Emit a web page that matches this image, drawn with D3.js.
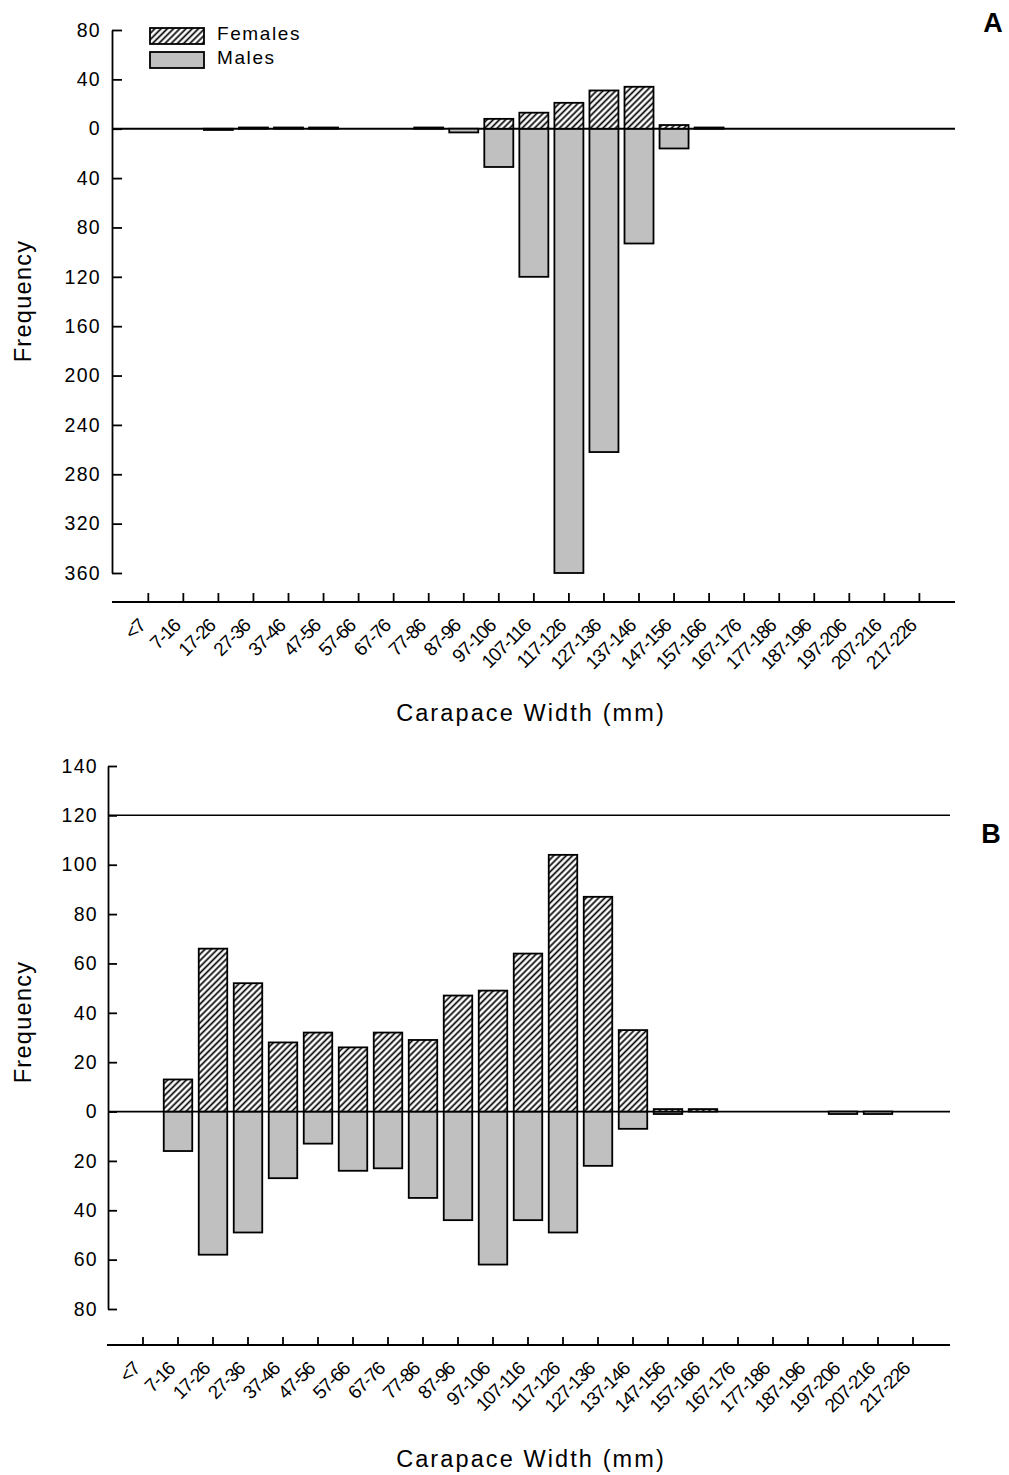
<!DOCTYPE html>
<html>
<head>
<meta charset="utf-8">
<script src="https://cdn.jsdelivr.net/npm/d3@7/dist/d3.min.js"></script>
<style>
  html, body { margin: 0; padding: 0; background: #fff; }
  svg { display: block; }
  text { font-family: "Liberation Sans", Arial, Helvetica, sans-serif; fill: #000; }
</style>
</head>
<body>
<svg id="chart" width="1009" height="1475"></svg>
<script>
// Carapace width classes (mm)
const categories = ["<7","7-16","17-26","27-36","37-46","47-56","57-66","67-76","77-86","87-96","97-106",
  "107-116","117-126","127-136","137-146","147-156","157-166","167-176","177-186","187-196","197-206",
  "207-216","217-226"];

// Panel A frequencies
const femalesA = [0,0,0,1,1,1,0,0,1,0,8,13,21,31,34,3,1,0,0,0,0,0,0];
const malesA   = [0,0,1,0,0,0,0,0,0,3,31,120,360,262,93,16,0,0,0,0,0,0,0];

// Panel B frequencies
const femalesB = [0,13,66,52,28,32,26,32,29,47,49,64,104,87,33,1,1,0,0,0,0,0,0];
const malesB   = [0,16,58,49,27,13,24,23,35,44,62,44,49,22,7,1,0,0,0,0,1,1,0];

// Y tick values (males plotted below zero, labelled as positive counts)
const ticksA = [80,40,0,-40,-80,-120,-160,-200,-240,-280,-320,-360];
const ticksB = [140,120,100,80,60,40,20,0,-20,-40,-60,-80];

const legendItems = ["Females", "Males"];
const xTitle = "Carapace Width (mm)";
const yTitle = "Frequency";

const svg = d3.select("#chart");
const FONT = '"Liberation Sans", Arial, Helvetica, sans-serif';

// diagonal hatch used for females
const HW = 4.4;
const defs = svg.append("defs");
const pat = defs.append("pattern")
  .attr("id", "hatch")
  .attr("patternUnits", "userSpaceOnUse")
  .attr("width", HW).attr("height", HW)
  .attr("patternTransform", "rotate(45)");
pat.append("rect").attr("width", HW).attr("height", HW).attr("fill", "#fff");
pat.append("line").attr("x1", HW / 2).attr("y1", -1).attr("x2", HW / 2).attr("y2", HW + 1)
  .attr("stroke", "#000").attr("stroke-width", 1.7);

const GRAY = "#c0c0c0";
const SW = 1.8;

function panel(cfg) {
  const g = svg.append("g");
  const n = categories.length;

  const pi = 1 - cfg.barW / cfg.step;
  const x = d3.scaleBand()
    .domain(categories)
    .range([cfg.c0 - cfg.step / 2, cfg.c0 + (n - 0.5) * cfg.step])
    .paddingInner(pi)
    .paddingOuter(pi / 2);

  const y = d3.scaleLinear()
    .domain([cfg.yMax, cfg.yMin])
    .range([cfg.yTop, cfg.yBot]);

  // reference lines
  g.append("line")
    .attr("x1", cfg.axisX).attr("x2", cfg.lineEnd)
    .attr("y1", y(0)).attr("y2", y(0))
    .attr("stroke", "#000").attr("stroke-width", SW);
  (cfg.refLines || []).forEach(v => {
    g.append("line")
      .attr("x1", cfg.axisX).attr("x2", cfg.lineEnd)
      .attr("y1", y(v)).attr("y2", y(v))
      .attr("stroke", "#000").attr("stroke-width", 1.5);
  });

  // males (below zero)
  g.append("g").selectAll("rect")
    .data(categories.map((c, i) => ({ c, v: cfg.males[i] })).filter(d => d.v > 0))
    .join("rect")
    .attr("x", d => x(d.c))
    .attr("width", x.bandwidth())
    .attr("y", y(0))
    .attr("height", d => y(-d.v) - y(0))
    .attr("fill", GRAY)
    .attr("stroke", "#000").attr("stroke-width", SW);

  // females (above zero)
  g.append("g").selectAll("rect")
    .data(categories.map((c, i) => ({ c, v: cfg.females[i] })).filter(d => d.v > 0))
    .join("rect")
    .attr("x", d => x(d.c))
    .attr("width", x.bandwidth())
    .attr("y", d => y(d.v))
    .attr("height", d => y(0) - y(d.v))
    .attr("fill", "url(#hatch)")
    .attr("stroke", "#000").attr("stroke-width", SW);

  // y axis
  const yAxis = d3.axisLeft(y)
    .tickValues(cfg.ticks)
    .tickSizeInner(-cfg.tickLen)
    .tickSizeOuter(0)
    .tickPadding(cfg.labelPad)
    .tickFormat(d => String(Math.abs(d)));
  const ya = g.append("g")
    .attr("transform", `translate(${cfg.axisX},0)`)
    .call(yAxis);
  ya.selectAll("path.domain").attr("stroke", "#000").attr("stroke-width", SW);
  ya.selectAll(".tick line").attr("stroke", "#000").attr("stroke-width", SW);
  ya.selectAll(".tick text")
    .attr("font-family", FONT)
    .attr("font-size", 19.5)
    .attr("letter-spacing", 1.3)
    .attr("fill", "#000");

  // x axis
  const xAxis = d3.axisBottom(x)
    .tickSizeInner(-cfg.xTickLen)
    .tickSizeOuter(0)
    .tickFormat("");
  const xa = g.append("g")
    .attr("transform", `translate(0,${cfg.xAxisY})`)
    .call(xAxis);
  xa.select("path.domain").remove();
  xa.selectAll(".tick line").attr("stroke", "#000").attr("stroke-width", SW);
  g.append("line")
    .attr("x1", cfg.xStart).attr("x2", cfg.lineEnd)
    .attr("y1", cfg.xAxisY).attr("y2", cfg.xAxisY)
    .attr("stroke", "#000").attr("stroke-width", SW);

  // rotated class labels
  g.append("g").selectAll("text")
    .data(categories)
    .join("text")
    .attr("transform", d => {
      const px = x(d) + x.bandwidth() / 2 - 2;
      const py = cfg.xAxisY + 25;
      return `translate(${px},${py}) rotate(-45)`;
    })
    .attr("text-anchor", "end")
    .attr("font-size", 19)
    .attr("letter-spacing", -1.2)
    .text(d => d);

  // axis titles
  g.append("text")
    .attr("x", 531).attr("y", cfg.xTitleY)
    .attr("text-anchor", "middle")
    .attr("font-size", 23.5)
    .attr("letter-spacing", 2.1)
    .text(xTitle);

  g.append("text")
    .attr("transform", `translate(31,${cfg.yTitleCY}) rotate(-90)`)
    .attr("text-anchor", "middle")
    .attr("font-size", 23.5)
    .attr("letter-spacing", 1.3)
    .text(yTitle);

  // panel letter
  g.append("text")
    .attr("x", cfg.letterX).attr("y", cfg.letterY)
    .attr("text-anchor", "middle")
    .attr("font-size", 27)
    .attr("font-weight", "bold")
    .text(cfg.letter);

  return g;
}

panel({
  females: femalesA, males: malesA, ticks: ticksA,
  yMax: 80, yMin: -360, yTop: 30, yBot: 573,
  axisX: 112, tickLen: 10, labelPad: 11,
  c0: 148.3, step: 35.05, barW: 29,
  xAxisY: 602, xTickLen: 9, xStart: 112, lineEnd: 955,
  xTitleY: 721, yTitleCY: 301,
  letter: "A", letterX: 993, letterY: 32
});

panel({
  females: femalesB, males: malesB, ticks: ticksB,
  yMax: 140, yMin: -80, yTop: 766, yBot: 1309,
  axisX: 108, tickLen: 9, labelPad: 10,
  c0: 143, step: 35.0, barW: 28.5,
  xAxisY: 1345, xTickLen: 8, xStart: 107, lineEnd: 950,
  refLines: [120],
  xTitleY: 1467, yTitleCY: 1022,
  letter: "B", letterX: 991, letterY: 843
});

// legend
const lg = svg.append("g");
legendItems.forEach((name, i) => {
  lg.append("rect")
    .attr("x", 150).attr("y", 28 + i * 24)
    .attr("width", 54).attr("height", 16)
    .attr("fill", i === 0 ? "url(#hatch)" : GRAY)
    .attr("stroke", "#000").attr("stroke-width", SW);
  lg.append("text")
    .attr("x", 217).attr("y", 39.5 + i * 24)
    .attr("font-size", 19)
    .attr("letter-spacing", 1.6)
    .text(name);
});
</script>
</body>
</html>
